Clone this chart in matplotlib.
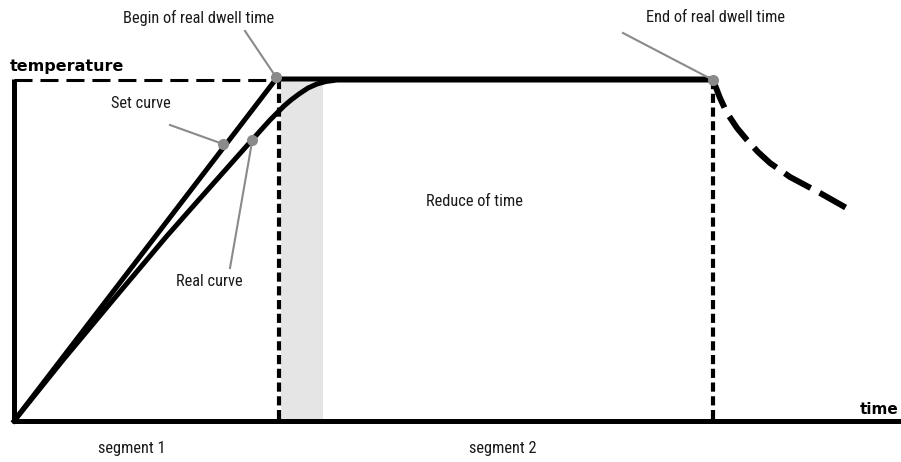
import matplotlib.pyplot as plt
from matplotlib import font_manager

# diagram coordinates (x = time, y = pixel-like height, y axis inverted)
origin = (14, 421)
set_temp_y = 80
dwell_start_x = 279
shade_end_x = 323
dwell_end_x = 713
axis_end_x = 901

set_curve_x = [14, 276, 713]
set_curve_y = [421, 79, 79]

real_curve_x = [14, 63, 113, 166, 196, 228, 252, 270, 277, 284, 291, 299, 308, 317, 326, 337, 713]
real_curve_y = [421, 360, 300, 237, 203, 167, 140, 120, 113, 106, 100, 94, 88, 84, 81.5, 80, 80]

cool_x = [713, 720, 727, 737, 747, 758, 770, 790, 820, 850]
cool_y = [80, 98, 113, 128, 140, 152, 163, 177, 193, 210]

dots_x = [276, 223, 252, 713]
dots_y = [77, 144, 140, 80]

# leader lines: (x0, y0, x1, y1)
leaders = [
    (245, 31, 276, 77),
    (170, 125, 223, 144),
    (230, 268, 252, 142),
    (623, 33, 713, 80),
]

labels = [
    ("Begin of real dwell time", 199, 18),
    ("End of real dwell time", 715, 18),
    ("Set curve", 141, 104),
    ("Real curve", 209, 281),
    ("Reduce of time", 474, 202),
    ("segment 1", 132, 448),
    ("segment 2", 503, 448),
]

names = {f.name for f in font_manager.fontManager.ttflist}
label_font, label_size = "Liberation Sans", 10.5
for cand, size in [("Roboto Condensed", 11.8), ("Liberation Sans Narrow", 11.8)]:
    if cand in names:
        label_font, label_size = cand, size
        break
plt.rcParams["font.family"] = [label_font, "DejaVu Sans"]

fig = plt.figure(figsize=(9.01, 4.62), dpi=100)
ax = fig.add_axes([0, 0, 1, 1])
ax.set_xlim(0, 901)
ax.set_ylim(462, 0)
ax.axis("off")

ax.axvspan(dwell_start_x + 2, shade_end_x, ymin=(462 - origin[1]) / 462, ymax=(462 - set_temp_y) / 462,
           color="#e5e5e5", lw=0, zorder=0)

# axes
ax.plot([origin[0], origin[0]], [set_temp_y - 1, origin[1]], color="black", lw=3.6, solid_capstyle="butt", zorder=3)
ax.plot([origin[0] - 2, axis_end_x], [origin[1], origin[1]], color="black", lw=3.6, solid_capstyle="butt", zorder=3)
ax.plot([origin[0], 272], [set_temp_y, set_temp_y], color="black", lw=2.2, ls=(0, (5.9, 2.6)), zorder=3)

# dwell markers
for xv in (dwell_start_x, dwell_end_x):
    ax.plot([xv, xv], [set_temp_y, origin[1]], color="black", lw=3.0, ls=(0, (2.2, 1.1)),
            dash_capstyle="butt", zorder=2)

ax.plot(set_curve_x, set_curve_y, color="black", lw=3.6, solid_joinstyle="miter", zorder=4)
ax.plot(real_curve_x, real_curve_y, color="black", lw=3.6, solid_capstyle="butt", solid_joinstyle="round", zorder=4)
ax.plot(cool_x, cool_y, color="black", lw=4.3, ls=(0, (5, 1.7)), dash_capstyle="butt", zorder=4)

for x0, y0, x1, y1 in leaders:
    ax.plot([x0, x1], [y0, y1], color="#8a8a8a", lw=1.5, zorder=5)
ax.plot(dots_x, dots_y, "o", color="#8a8a8a", ms=8, mec="none", zorder=6)

for text, x, y in labels:
    ax.text(x, y, text, ha="center", va="center", fontsize=label_size, color="#1a1a1a")

ax.text(10, 66, "temperature", ha="left", va="center", fontsize=11.5,
        fontweight="bold", family="DejaVu Sans")
ax.text(898, 410, "time", ha="right", va="center", fontsize=11,
        fontweight="bold", family="DejaVu Sans")

fig.savefig("out.png", dpi=100)
